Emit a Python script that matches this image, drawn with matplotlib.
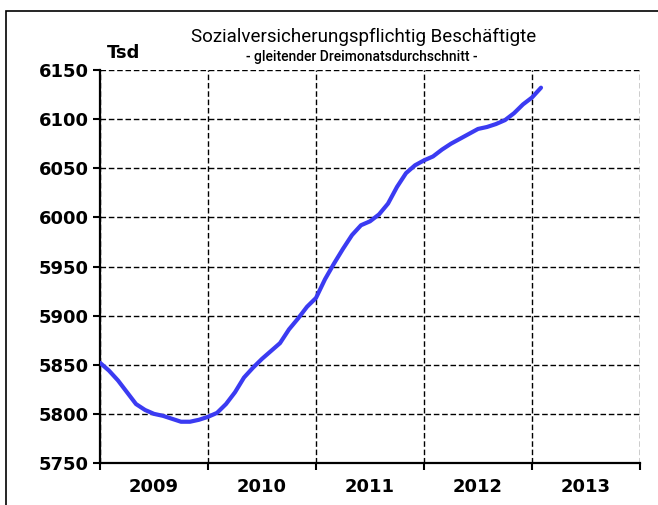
import matplotlib

matplotlib.use("Agg")

import matplotlib.pyplot as plt
from matplotlib.patches import Rectangle
from matplotlib.ticker import FixedLocator, NullFormatter

# =========================
# データ (2009年1月〜2013年2月, 月次, 千人)
# =========================
START_YEAR = 2009
values = [
    5852, 5844, 5834, 5822, 5810, 5804, 5800, 5798, 5795, 5792, 5792, 5794,
    5797, 5801, 5810, 5822, 5837, 5847, 5856, 5864, 5872, 5886, 5897, 5909,
    5918, 5937, 5953, 5968, 5982, 5992, 5996, 6003, 6014, 6031, 6045, 6053,
    6058, 6062, 6069, 6075, 6080, 6085, 6090, 6092, 6095, 6099, 6106, 6115,
    6122, 6132,
]
years = [2009, 2010, 2011, 2012, 2013]
y_ticks = [5750, 5800, 5850, 5900, 5950, 6000, 6050, 6100, 6150]

TITLE = "Sozialversicherungspflichtig Beschäftigte"
SUBTITLE = "- gleitender Dreimonatsdurchschnitt -"
UNIT = "Tsd"

plt.rcParams["font.family"] = ["DejaVu Sans"]
TITLE_FONT = ["Roboto", "DejaVu Sans"]

x = [START_YEAR + i / 12 for i in range(len(values))]

# =========================
# 描画
# =========================
fig = plt.figure(figsize=(6.58, 5.05), dpi=100)
ax = fig.add_axes([100 / 658, 1 - 463 / 505, 540 / 658, 393 / 505])

ax.plot(x, values, color="#3b3bf2", linewidth=3.0, solid_capstyle="round", zorder=3)

ax.set_xlim(years[0], years[-1] + 1)
ax.set_ylim(y_ticks[0], y_ticks[-1])

# 年の境界に目盛、ラベルは年の中央
ax.xaxis.set_major_locator(FixedLocator(years + [years[-1] + 1]))
ax.xaxis.set_major_formatter(NullFormatter())
ax.xaxis.set_minor_locator(FixedLocator([yr + 0.5 for yr in years]))
ax.set_xticklabels([str(yr) for yr in years], minor=True)
ax.set_yticks(y_ticks)

ax.tick_params(axis="x", which="major", direction="out", length=5, width=1.5, color="black")
ax.tick_params(axis="x", which="minor", length=0, pad=11, labelsize=13)
ax.tick_params(axis="y", direction="out", length=5, width=1.5, pad=3, labelsize=13)
for lbl in ax.get_xticklabels(minor=True) + ax.get_yticklabels():
    lbl.set_fontweight("bold")

ax.grid(True, which="major", color="black", linestyle=(0, (4, 2)), linewidth=1.0)
ax.set_axisbelow(True)

for side in ["top", "right"]:
    ax.spines[side].set_visible(False)
for side in ["left", "bottom"]:
    ax.spines[side].set_linewidth(1.6)
    ax.spines[side].set_color("black")

# タイトル類
fig.text(364 / 658, 1 - 42 / 505, TITLE, ha="center", va="baseline",
         fontsize=13.5, family=TITLE_FONT)
fig.text(362 / 658, 1 - 61 / 505, SUBTITLE, ha="center", va="baseline",
         fontsize=10, fontweight="medium", family=TITLE_FONT)
fig.text(107 / 658, 1 - 58 / 505, UNIT, ha="left", va="baseline",
         fontsize=13, fontweight="bold")

# 外枠
fig.patches.append(Rectangle((6 / 658, -0.2), 2.0, 1.2 - 11 / 505,
                             transform=fig.transFigure, fill=False,
                             edgecolor="black", linewidth=1.2))

fig.savefig("out.png", dpi=100)
